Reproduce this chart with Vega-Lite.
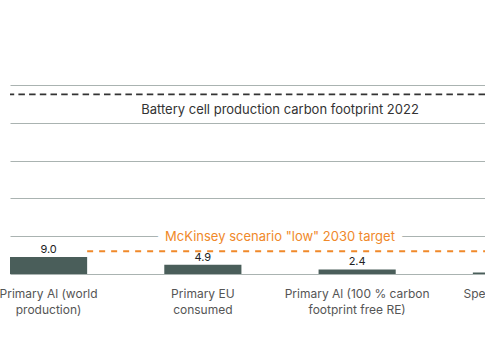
{
  "$schema": "https://vega.github.io/schema/vega-lite/v6.json",
  "autosize": "none",
  "width": 475,
  "height": 189,
  "padding": {"left": 10, "top": 85, "right": 0, "bottom": 86},
  "background": "white",
  "config": {"font": "Inter", "view": {"stroke": null}},
  "datasets": {
    "bars": [
      {"category": "Primary Al (world production)", "value": 9.0},
      {"category": "Primary EU consumed", "value": 4.9},
      {"category": "Primary Al (100 % carbon footprint free RE)", "value": 2.4},
      {"category": "Specific scrap Al recycled", "value": 0.8}
    ],
    "refs": [
      {"label": "Battery cell production carbon footprint 2022", "value": 95, "kind": "battery"},
      {"label": "McKinsey scenario \"low\" 2030 target", "value": 12, "kind": "target"}
    ]
  },
  "layer": [
    {
      "data": {"name": "bars"},
      "mark": {"type": "bar", "color": "#4a5e5a"},
      "encoding": {
        "x": {
          "field": "category", "type": "nominal", "sort": null,
          "scale": {"range": [0, 540], "paddingInner": 0.5, "paddingOuter": 0},
          "axis": {
            "title": null, "domain": false, "ticks": false,
            "labelAngle": 0, "labelFontSize": 12, "labelColor": "#555555",
            "labelPadding": 14, "labelLineHeight": 16, "labelOverlap": false,
            "labelExpr": "datum.value == 'Primary Al (world production)' ? ['Primary Al (world', 'production)'] : datum.value == 'Primary EU consumed' ? ['Primary EU', 'consumed'] : datum.value == 'Primary Al (100 % carbon footprint free RE)' ? ['Primary Al (100 % carbon', 'footprint free RE)'] : ['Specific scrap Al', 'recycled']"
          }
        },
        "y": {
          "field": "value", "type": "quantitative",
          "scale": {"domain": [0, 100], "nice": false},
          "axis": {
            "title": null, "domain": false, "ticks": false, "labels": false,
            "grid": true, "tickCount": 5, "labelOverlap": false,
            "gridColor": "#aab3b1", "gridWidth": 1, "gridOpacity": 1
          }
        }
      }
    },
    {
      "data": {"name": "bars"},
      "mark": {"type": "text", "fontSize": 11, "color": "#222222", "baseline": "alphabetic", "dy": -4},
      "encoding": {
        "x": {"field": "category", "type": "nominal", "sort": null},
        "y": {"field": "value", "type": "quantitative"},
        "text": {"field": "value", "type": "quantitative", "format": ".1f"}
      }
    },
    {
      "data": {"name": "refs"},
      "transform": [{"filter": "datum.kind == 'battery'"}],
      "mark": {"type": "rule", "color": "#333333", "strokeWidth": 1.8, "strokeDash": [6.5, 4.2]},
      "encoding": {"y": {"field": "value", "type": "quantitative"}}
    },
    {
      "data": {"name": "refs"},
      "transform": [{"filter": "datum.kind == 'battery'"}],
      "mark": {"type": "text", "fontSize": 13, "color": "#333333", "baseline": "alphabetic", "dy": 20, "x": {"expr": "range('x')[1]/2"}},
      "encoding": {
        "y": {"field": "value", "type": "quantitative"},
        "text": {"field": "label"}
      }
    },
    {
      "data": {"name": "refs"},
      "transform": [{"filter": "datum.kind == 'target'"}],
      "mark": {"type": "text", "fontSize": 13, "color": "white", "stroke": "white", "strokeWidth": 16, "strokeJoin": "round", "strokeCap": "round", "baseline": "alphabetic", "dy": -10.5, "x": {"expr": "range('x')[1]/2"}},
      "encoding": {
        "y": {"field": "value", "type": "quantitative"},
        "text": {"field": "label"}
      }
    },
    {
      "data": {"name": "refs"},
      "transform": [{"filter": "datum.kind == 'target'"}],
      "mark": {"type": "text", "fontSize": 13, "color": "#f0892a", "baseline": "alphabetic", "dy": -10.5, "x": {"expr": "range('x')[1]/2"}},
      "encoding": {
        "y": {"field": "value", "type": "quantitative"},
        "text": {"field": "label"}
      }
    },
    {
      "data": {"name": "refs"},
      "transform": [{"filter": "datum.kind == 'target'"}],
      "mark": {"type": "rule", "color": "#f0892a", "strokeWidth": 2, "strokeDash": [6, 6]},
      "encoding": {
        "y": {"field": "value", "type": "quantitative"},
        "x": {"datum": "Primary Al (world production)", "bandPosition": 1},
        "x2": {"value": "width"}
      }
    }
  ]
}
